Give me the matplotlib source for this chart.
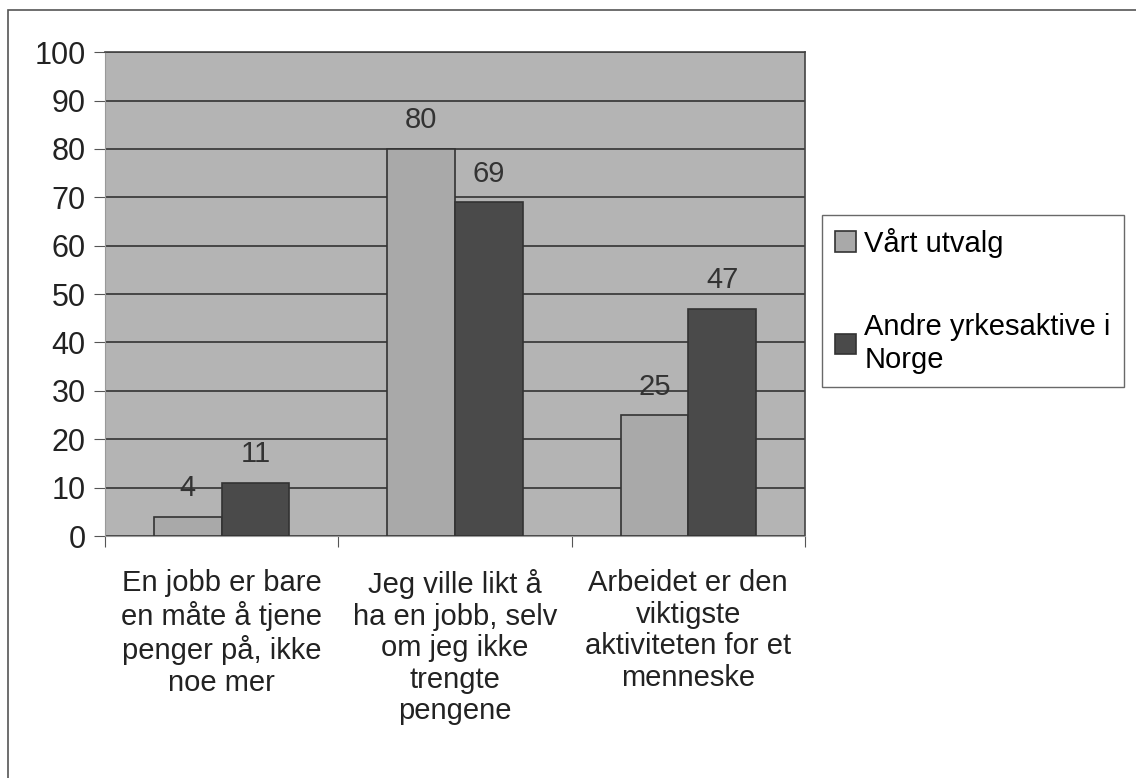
import matplotlib
matplotlib.use("Agg")
import matplotlib.pyplot as plt
import numpy as np
from matplotlib.patches import Rectangle

categories = ["En jobb er bare\nen måte å tjene\npenger på, ikke\nnoe mer",
              "Jeg ville likt å\nha en jobb, selv\nom jeg ikke\ntrengte\npengene",
              "Arbeidet er den\nviktigste\naktiviteten for et\nmenneske"]
series_names = ["Vårt utvalg", "Andre yrkesaktive i\nNorge"]
vart_utvalg = [4, 80, 25]
andre = [11, 69, 47]
yticks = list(range(0, 101, 10))

plt.rcParams['font.family'] = ['Liberation Sans', 'DejaVu Sans']
fig = plt.figure(figsize=(11.36, 7.78), dpi=100)
ax = fig.add_axes([0.0924, 0.311, 0.6162, 0.622])
ax.set_facecolor("#b4b4b4")

x = np.arange(len(categories))
w = 0.29
b1 = ax.bar(x - w/2, vart_utvalg, w, color="#a9a9a9", edgecolor="#333333", linewidth=1.2, label=series_names[0], zorder=3)
b2 = ax.bar(x + w/2, andre, w, color="#4a4a4a", edgecolor="#333333", linewidth=1.2, label=series_names[1], zorder=3)
for bars, vals in ((b1, vart_utvalg), (b2, andre)):
    for r, v in zip(bars, vals):
        ax.text(r.get_x() + r.get_width()/2, v + 3, str(v), ha="center", va="bottom",
                fontsize=21, color="#333333", zorder=4)

ax.set_xlim(-0.5, 2.5)
ax.set_ylim(0, 100)
ax.set_yticks(yticks)
ax.set_yticklabels([str(t) for t in yticks], fontsize=22, color="#222222")
ax.yaxis.grid(True, color="#333333", linewidth=1.2, zorder=1)
ax.set_axisbelow(True)
ax.set_xticks([-0.5, 0.5, 1.5, 2.5], minor=False)
ax.set_xticklabels([])
ax.set_xticks(x, minor=True)
ax.set_xticklabels(categories, minor=True, fontsize=21, color="#222222", linespacing=1.16)
ax.tick_params(axis="x", which="minor", length=0, pad=24)
ax.tick_params(axis="x", which="major", length=8, color="#555555")
ax.tick_params(axis="y", length=8, color="#555555", pad=6)
for s in ["top", "right"]:
    ax.spines[s].set_color("#444444")
    ax.spines[s].set_linewidth(1.2)
ax.spines["left"].set_color("#999999")
ax.spines["bottom"].set_color("#999999")

leg = fig.legend(handles=[b1, b2], labels=series_names, loc="upper left",
                 bbox_to_anchor=(0.7236, 0.724), fontsize=21, frameon=True,
                 fancybox=False, edgecolor="#444444", handlelength=0.7, handleheight=0.7,
                 handletextpad=0.3, labelspacing=1.9, borderpad=0.45, borderaxespad=0)
leg.get_frame().set_linewidth(1.0)

fig.patches.append(Rectangle((0.007, -0.01), 1.0, 0.997, transform=fig.transFigure,
                             fill=False, edgecolor="#555555", linewidth=1.2))

fig.savefig("out.png", dpi=100, facecolor="white")
